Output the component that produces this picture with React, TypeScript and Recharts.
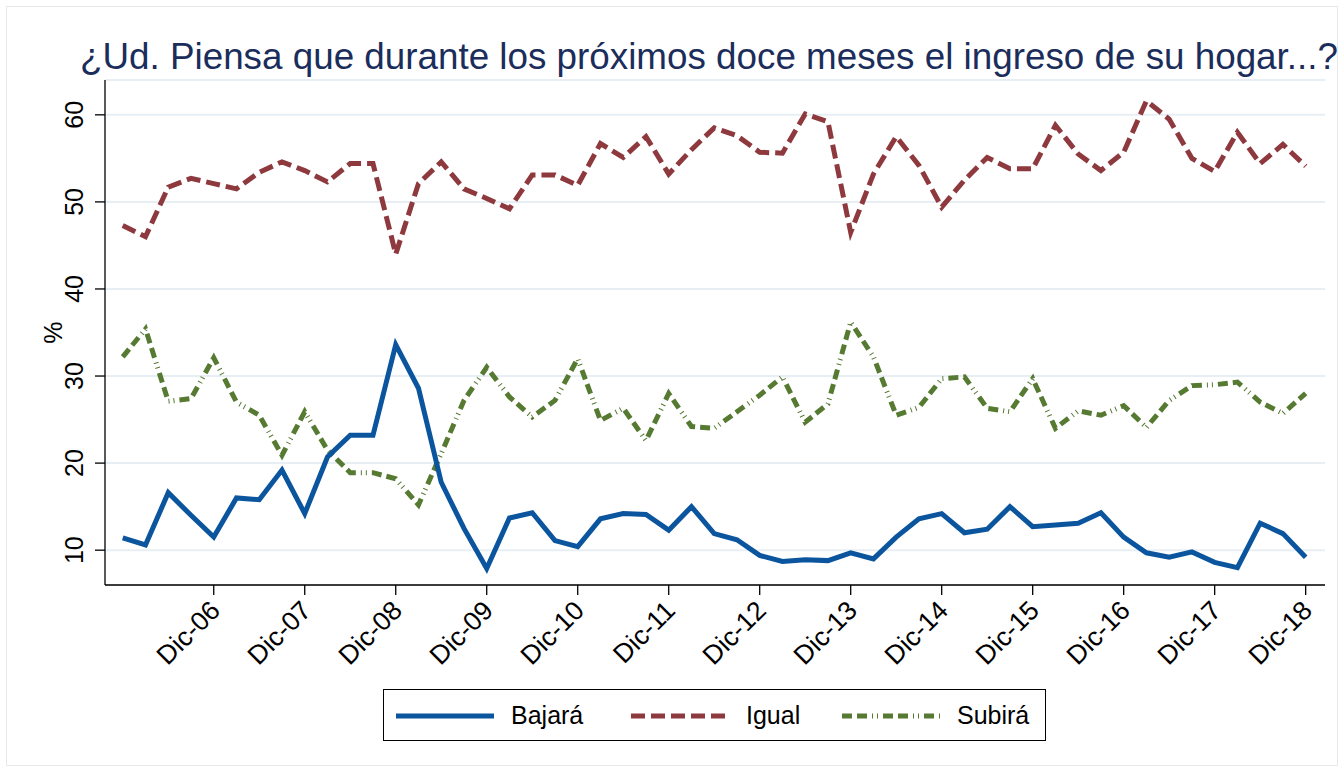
import React from 'react';
import { LineChart, Line, XAxis, YAxis, CartesianGrid, Label } from 'recharts';

// quarterly survey, Dic-05 .. Dic-18
const quarters = [
  'Dic-05',
  'Mar-06', 'Jun-06', 'Sep-06', 'Dic-06',
  'Mar-07', 'Jun-07', 'Sep-07', 'Dic-07',
  'Mar-08', 'Jun-08', 'Sep-08', 'Dic-08',
  'Mar-09', 'Jun-09', 'Sep-09', 'Dic-09',
  'Mar-10', 'Jun-10', 'Sep-10', 'Dic-10',
  'Mar-11', 'Jun-11', 'Sep-11', 'Dic-11',
  'Mar-12', 'Jun-12', 'Sep-12', 'Dic-12',
  'Mar-13', 'Jun-13', 'Sep-13', 'Dic-13',
  'Mar-14', 'Jun-14', 'Sep-14', 'Dic-14',
  'Mar-15', 'Jun-15', 'Sep-15', 'Dic-15',
  'Mar-16', 'Jun-16', 'Sep-16', 'Dic-16',
  'Mar-17', 'Jun-17', 'Sep-17', 'Dic-17',
  'Mar-18', 'Jun-18', 'Sep-18', 'Dic-18',
];

const bajara = [
  11.4, 10.6, 16.6, 14.0, 11.5, 16.0, 15.8, 19.2, 14.2, 20.7, 23.2, 23.2, 33.6,
  28.6, 17.8, 12.5, 7.9, 13.7, 14.3, 11.1, 10.4, 13.6, 14.2, 14.1, 12.3, 15.0, 11.9,
  11.2, 9.4, 8.7, 8.9, 8.8, 9.7, 9.0, 11.5, 13.6, 14.2, 12.0, 12.4, 15.0,
  12.7, 12.9, 13.1, 14.3, 11.5, 9.7, 9.2, 9.8, 8.6, 8.0, 13.1, 11.9, 9.2,
];

const igual = [
  47.3, 46.0, 51.7, 52.7, 52.1, 51.5, 53.4, 54.6, 53.6, 52.3, 54.4, 54.4, 44.0,
  52.1, 54.6, 51.5, 50.4, 49.2, 53.1, 53.1, 51.9, 56.7, 55.1, 57.5, 53.2, 56.0, 58.5,
  57.6, 55.7, 55.6, 60.1, 59.2, 46.5, 53.2, 57.5, 54.2, 49.4, 52.5, 55.1, 53.8,
  53.8, 58.8, 55.5, 53.6, 55.7, 61.6, 59.5, 55.0, 53.5, 58.0, 54.4, 56.6, 54.1,
];

const subira = [
  32.2, 35.4, 27.1, 27.4, 32.1, 27.0, 25.5, 20.9, 25.9, 21.5, 18.9, 18.9, 18.2,
  15.2, 21.1, 27.2, 31.0, 27.6, 25.3, 27.2, 32.0, 24.9, 26.3, 22.6, 28.0, 24.2, 24.0,
  25.9, 27.8, 29.9, 24.7, 26.8, 36.2, 32.2, 25.5, 26.4, 29.7, 29.9, 26.3, 25.9,
  29.7, 24.0, 26.0, 25.5, 26.6, 24.1, 27.2, 28.9, 29.0, 29.3, 27.0, 25.7, 28.0,
];

const tickLabels = ['Dic-06', 'Dic-07', 'Dic-08', 'Dic-09', 'Dic-10', 'Dic-11', 'Dic-12', 'Dic-13', 'Dic-14', 'Dic-15', 'Dic-16', 'Dic-17', 'Dic-18'];
const yTicks = [10, 20, 30, 40, 50, 60];

const title = '¿Ud. Piensa que durante los próximos doce meses el ingreso de su hogar...?';

const FONT = '"Liberation Sans", Arial, Helvetica, sans-serif';
const BLUE = '#0a559e';
const RED = '#8d393e';
const GREEN = '#567a31';
const DASH_RED = '14 6';
const DASH_GREEN = '10 5 10 5 1 4 1 5';

const data = quarters.map((q, i) => ({
  idx: i,
  q,
  bajara: bajara[i],
  igual: igual[i],
  subira: subira[i],
}));

const xTicks = tickLabels.map((t) => quarters.indexOf(t));

const XTick = (props: any) => {
  const { x, y, payload } = props;
  return (
    <text
      transform={`translate(${x + 8},${y + 15}) rotate(-45)`}
      textAnchor="end"
      fontSize={26.5}
      fontFamily={FONT}
      fill="#000"
    >
      {quarters[payload.value]}
    </text>
  );
};

const YTick = (props: any) => {
  const { x, y, payload } = props;
  const bx = x - 10;
  return (
    <text
      x={bx}
      y={y}
      transform={`rotate(-90 ${bx} ${y})`}
      textAnchor="middle"
      fontSize={25}
      fontFamily={FONT}
      fill="#000"
    >
      {payload.value}
    </text>
  );
};

const PctLabel = (props: any) => {
  const vb = props.viewBox || { x: 0, y: 80, width: 105, height: 505 };
  const cy = vb.y + vb.height / 2;
  return (
    <text x={62} y={cy} transform={`rotate(-90 62 ${cy})`} textAnchor="middle" fontSize={25} fontFamily={FONT} fill="#000">
      %
    </text>
  );
};

const LegendItem = ({ left, color, dash, label, textLeft }: any) => (
  <>
    <svg style={{ position: 'absolute', left, top: 21 }} width={98} height={10}>
      <line x1={0} y1={5} x2={98} y2={5} stroke={color} strokeWidth={5} strokeDasharray={dash} />
    </svg>
    <span style={{ position: 'absolute', left: textLeft, top: 10, fontSize: 25, lineHeight: '30px', fontFamily: FONT, color: '#000' }}>
      {label}
    </span>
  </>
);

export default function App() {
  return (
    <div style={{ position: 'absolute', left: 0, top: 0, width: 1342, height: 772, background: '#fff', overflow: 'hidden' }}>
      <div style={{ position: 'absolute', left: 6, top: 6, width: 1330, height: 758, border: '1px solid #e6e8ea' }} />
      <svg style={{ position: 'absolute', left: 0, top: 0 }} width={1342} height={100}>
        <text x={80} y={69} fontSize={36.8} fontFamily={FONT} fill="#1b2d5b">
          {title}
        </text>
      </svg>
      <div style={{ position: 'absolute', left: 0, top: 0 }}>
        <LineChart width={1342} height={772} data={data} margin={{ top: 80, right: 17, left: 0, bottom: 107 }}>
          <CartesianGrid vertical={false} stroke="#e8eff4" strokeWidth={2} />
          <XAxis
            dataKey="idx"
            type="number"
            domain={[-0.78, 52.85]}
            allowDataOverflow
            ticks={xTicks}
            interval={0}
            height={80}
            tickSize={10}
            tick={<XTick />}
            axisLine={{ stroke: '#000', strokeWidth: 1.3 }}
            tickLine={{ stroke: '#000', strokeWidth: 1.3 }}
          />
          <YAxis
            type="number"
            domain={[6, 64]}
            allowDataOverflow
            ticks={yTicks}
            interval={0}
            width={105}
            tickSize={10}
            tick={<YTick />}
            axisLine={{ stroke: '#000', strokeWidth: 1.3 }}
            tickLine={{ stroke: '#000', strokeWidth: 1.3 }}
          >
            <Label content={<PctLabel />} />
          </YAxis>
          <Line type="linear" dataKey="igual" stroke={RED} strokeWidth={5} strokeDasharray={DASH_RED} dot={false} isAnimationActive={false} />
          <Line type="linear" dataKey="subira" stroke={GREEN} strokeWidth={5} strokeDasharray={DASH_GREEN} dot={false} isAnimationActive={false} />
          <Line type="linear" dataKey="bajara" stroke={BLUE} strokeWidth={5} dot={false} isAnimationActive={false} />
        </LineChart>
      </div>
      <div style={{ position: 'absolute', left: 383, top: 689, width: 661, height: 50, border: '1.3px solid #000', background: '#fff' }}>
        <LegendItem left={12} color={BLUE} label="Bajará" textLeft={127} />
        <LegendItem left={247} color={RED} dash={DASH_RED} label="Igual" textLeft={362} />
        <LegendItem left={458} color={GREEN} dash={DASH_GREEN} label="Subirá" textLeft={573} />
      </div>
    </div>
  );
}
